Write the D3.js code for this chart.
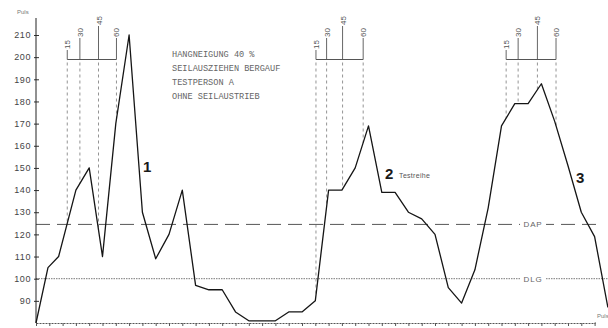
<!DOCTYPE html>
<html>
<head>
<meta charset="utf-8">
<script src="https://cdn.jsdelivr.net/npm/d3@7"></script>
<style>
  body { margin: 0; background: #fff; }
  svg { display: block; }
</style>
</head>
<body>
<svg id="chart" width="608" height="328"></svg>
<script>
// Pulse record of one test person: time in quarter-minute steps, pulse in beats/min
const times = [0, 0.9, 1.7, 3, 4, 5, 6, 7, 8, 9, 10, 11, 12, 13, 14, 15, 16, 17, 18, 19, 20,
               21, 22, 23, 24, 25, 26, 27, 28, 29, 30, 31, 32, 33, 34, 35, 36, 37, 38, 39, 40,
               41, 42, 43];
const pulse = [80, 105, 110, 140, 150, 110, 170, 210, 130, 109, 120, 140, 97, 95, 95, 85, 81,
               81, 81, 85, 85, 90, 140, 140, 150, 169, 139, 139, 130, 127, 120, 96, 89, 104,
               132, 169, 179, 179, 188, 171, 151, 130, 119, 87];

// Axis ticks
const yTicks = [90, 100, 110, 120, 130, 140, 150, 160, 170, 180, 190, 200, 210];
const xTicks = d3.range(0, 43);

// Reference levels
const levelNames = ["DAP", "DLG"];
const levelValues = [124.5, 100];

// Second marks (15/30/45/60 s) above each work phase, in time units
const markLabels = ["15", "30", "45", "60"];
const phaseMarks = [
  [2.35, 3.3, 4.7, 6.05],
  [21.05, 21.85, 23.05, 24.6],
  [35.35, 36.25, 37.7, 39.1]
];
const phaseNames = ["1", "2", "3"];

const noteLines = ["HANGNEIGUNG 40 %", "SEILAUSZIEHEN BERGAUF", "TESTPERSON A", "OHNE SEILAUSTRIEB"];

const svg = d3.select("#chart");
const x = d3.scaleLinear().domain([0, 42]).range([36, 594.6]);
const y = d3.scaleLinear().domain([80, 210]).range([323, 35]);

const sans = "'Liberation Sans', Arial, sans-serif";
const mono = "'Liberation Mono', 'DejaVu Sans Mono', monospace";

// pulse value on the curve at time t
function curveAt(t) {
  for (let i = 0; i < times.length - 1; i++) {
    if (t >= times[i] && t <= times[i + 1]) {
      const f = (t - times[i]) / (times[i + 1] - times[i]);
      return pulse[i] + f * (pulse[i + 1] - pulse[i]);
    }
  }
  return pulse[pulse.length - 1];
}

// ---- reference levels ----
const levelDash = ["14,7", "1.5,1"];
const levelG = svg.append("g");
levelValues.forEach((v, i) => {
  levelG.append("line")
    .attr("x1", 36).attr("x2", i === 0 ? 600 : 608)
    .attr("y1", y(v)).attr("y2", y(v))
    .attr("stroke", i === 0 ? "#444" : "#555")
    .attr("stroke-width", i === 0 ? 0.9 : 0.8)
    .attr("stroke-dasharray", levelDash[i]);
  levelG.append("rect")
    .attr("x", x(37.37) - 13).attr("y", y(v) - 5)
    .attr("width", 26).attr("height", 10)
    .attr("fill", "#fff");
  levelG.append("text")
    .attr("x", x(37.37)).attr("y", y(v) + 3)
    .attr("text-anchor", "middle")
    .attr("font-family", sans).attr("font-size", 8)
    .attr("letter-spacing", 0.8)
    .attr("fill", "#666")
    .text(levelNames[i]);
});

// ---- axes ----
const yAxis = d3.axisLeft(y).tickValues(yTicks).tickSize(2).tickPadding(3);
const yG = svg.append("g").attr("transform", "translate(36,0)").call(yAxis);
yG.select(".domain").remove();
yG.append("line").attr("y1", 18).attr("y2", y(80)).attr("stroke", "#222").attr("stroke-width", 1);
yG.selectAll(".tick line").attr("x2", 3).attr("x1", -2).attr("stroke", "#333");
yG.selectAll(".tick text")
  .attr("font-family", sans).attr("font-size", 9)
  .attr("letter-spacing", 0.6)
  .attr("fill", "#444")
  .attr("dy", "0.3em");

svg.append("text")
  .attr("x", 17).attr("y", 14)
  .attr("font-family", sans).attr("font-size", 6)
  .attr("fill", "#777")
  .text("Puls");

const xAxis = d3.axisBottom(x).tickValues(xTicks).tickSize(3).tickSizeOuter(0).tickFormat("");
const xG = svg.append("g").attr("transform", `translate(0,${y(80)})`).call(xAxis);
xG.select(".domain").attr("stroke", "#555").attr("stroke-dasharray", "2,1");
xG.selectAll(".tick line").attr("stroke", "#555");
svg.append("line")
  .attr("x1", x(42)).attr("x2", 596)
  .attr("y1", y(80)).attr("y2", y(80))
  .attr("stroke", "#555");
svg.append("text")
  .attr("x", 597).attr("y", y(80) - 5)
  .attr("font-family", sans).attr("font-size", 6)
  .attr("fill", "#777")
  .text("Puls");

// ---- second marks above the phases ----
const markTop = { "15": 50, "30": 38, "45": 26, "60": 38 };
const barY = 59.5;
const markG = svg.append("g");
phaseMarks.forEach(marks => {
  markG.append("line")
    .attr("x1", x(marks[0])).attr("x2", x(marks[marks.length - 1]))
    .attr("y1", barY).attr("y2", barY)
    .attr("stroke", "#555").attr("stroke-width", 1);
  marks.forEach((t, j) => {
    const px = x(t);
    const top = markTop[markLabels[j]];
    markG.append("line")
      .attr("x1", px).attr("x2", px)
      .attr("y1", top).attr("y2", barY)
      .attr("stroke", "#555").attr("stroke-width", 0.9);
    markG.append("line")
      .attr("x1", px).attr("x2", px)
      .attr("y1", barY + 3).attr("y2", y(curveAt(t)))
      .attr("stroke", "#666").attr("stroke-width", 0.7)
      .attr("stroke-dasharray", "3,3");
    markG.append("text")
      .attr("transform", `translate(${px + 3},${top - 1}) rotate(-90)`)
      .attr("font-family", sans).attr("font-size", 8)
      .attr("fill", "#555")
      .text(markLabels[j]);
  });
});

// ---- pulse curve ----
const line = d3.line().x((d, i) => x(times[i])).y(d => y(d));
svg.append("path")
  .datum(pulse)
  .attr("d", line)
  .attr("fill", "none")
  .attr("stroke", "#151515")
  .attr("stroke-width", 1.3)
  .attr("stroke-linejoin", "round");

// ---- phase numbers ----
const phaseAt = [[8.05, 148], [26.24, 145], [40.6, 143]];
phaseNames.forEach((n, i) => {
  svg.append("text")
    .attr("x", x(phaseAt[i][0])).attr("y", y(phaseAt[i][1]))
    .attr("font-family", sans).attr("font-size", 15).attr("font-weight", "bold")
    .attr("fill", "#1a1a1a")
    .text(n);
});
svg.append("text")
  .attr("x", x(27.3)).attr("y", y(145.5))
  .attr("font-family", sans).attr("font-size", 7)
  .attr("letter-spacing", 0.3)
  .attr("fill", "#555")
  .text("Testreihe");

// ---- test conditions ----
svg.append("g").selectAll("text").data(noteLines).join("text")
  .attr("x", 172).attr("y", (d, i) => 57 + i * 14)
  .attr("font-family", mono).attr("font-size", 8.6)
  .attr("fill", "#666")
  .text(d => d);
</script>
</body>
</html>
